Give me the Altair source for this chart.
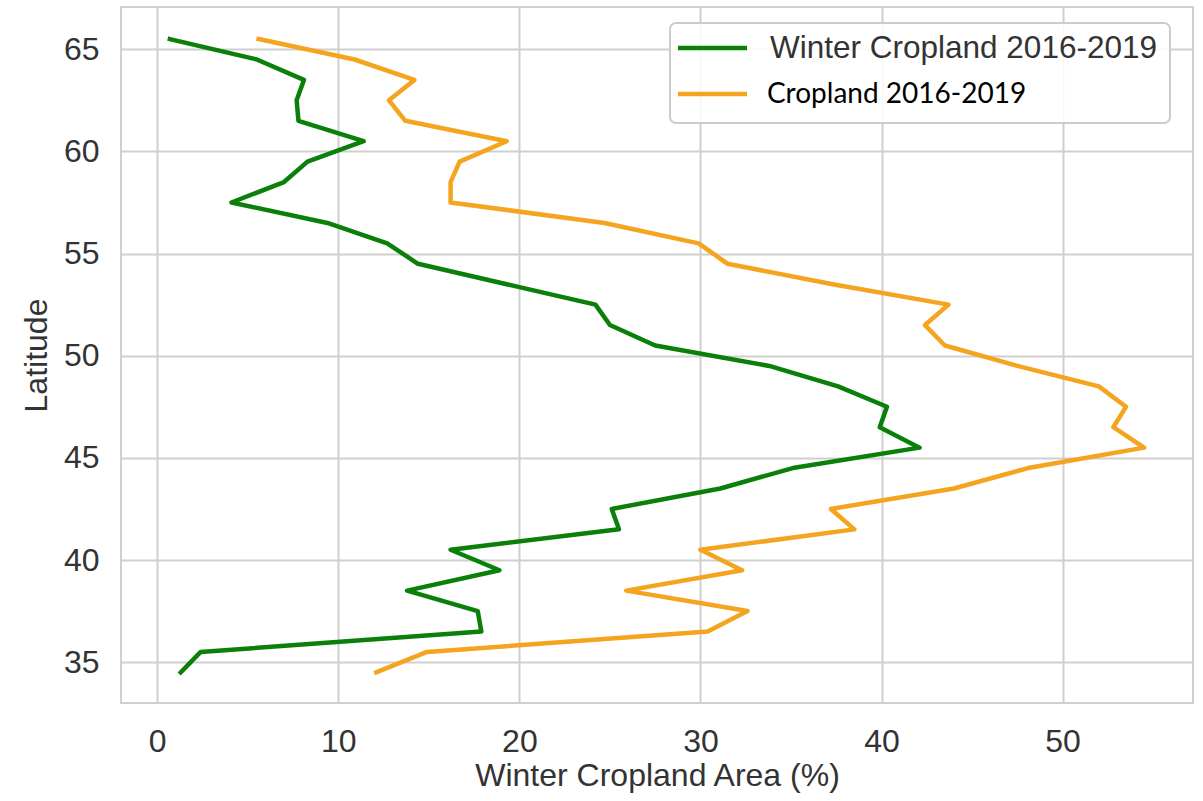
import altair as alt
import pandas as pd

# Latitude bands (band centres, degrees N), north to south
latitude = [65.5, 64.5, 63.5, 62.5, 61.5, 60.5, 59.5, 58.5, 57.5, 56.5, 55.5,
            54.5, 53.5, 52.5, 51.5, 50.5, 49.5, 48.5, 47.5, 46.5, 45.5, 44.5,
            43.5, 42.5, 41.5, 40.5, 39.5, 38.5, 37.5, 36.5, 35.5, 34.5]

# Share of land area (%) per latitude band
winter_cropland = [0.7, 5.5, 8.1, 7.7, 7.8, 11.4, 8.3, 7.0, 4.1, 9.4, 12.7,
                   14.4, 19.3, 24.2, 25.0, 27.5, 33.8, 37.6, 40.3, 39.9, 42.1, 35.1,
                   31.1, 25.1, 25.5, 16.2, 18.9, 13.8, 17.7, 17.9, 2.4, 1.3]
cropland = [5.6, 10.9, 14.2, 12.8, 13.7, 19.3, 16.7, 16.2, 16.2, 24.7, 29.9,
            31.5, 37.3, 43.7, 42.4, 43.5, 47.5, 52.0, 53.5, 52.8, 54.5, 48.1,
            44.0, 37.2, 38.5, 30.0, 32.3, 25.9, 32.6, 30.4, 14.9, 12.1]

series_names = ["Winter Cropland 2016-2019", "Cropland 2016-2019"]
series_colors = ["#0a800a", "#f4a41e"]

rows = []
for name, values in zip(series_names, [winter_cropland, cropland]):
    for lat, v in zip(latitude, values):
        rows.append({"series": name, "lat": lat, "value": v})
df = pd.DataFrame(rows)

W, H = 1072, 696
grid = "#cfcfcf"
ink = "#333333"

lines = alt.Chart(df).mark_line(strokeWidth=4.5, strokeJoin="round", strokeCap="square").encode(
    x=alt.X("value:Q",
            scale=alt.Scale(domain=[-2.0, 57.2], nice=False, zero=False),
            axis=alt.Axis(values=[0, 10, 20, 30, 40, 50], title="Winter Cropland Area (%)",
                          titleX=W / 2, titleY=72, titleBaseline="middle", titleAlign="center")),
    y=alt.Y("lat:Q",
            scale=alt.Scale(domain=[33.0, 67.07], nice=False, zero=False),
            axis=alt.Axis(values=[35, 40, 45, 50, 55, 60, 65], title="Latitude",
                          titleX=-85, titleY=H / 2, titleAngle=-90,
                          titleBaseline="middle", titleAlign="center")),
    color=alt.Color("series:N", scale=alt.Scale(domain=series_names, range=series_colors), legend=None),
    order=alt.Order("lat:Q", sort="descending"),
    detail="series:N",
)

one = pd.DataFrame({"k": [0]})

# Legend panel
box = alt.Chart(one).mark_rect(cornerRadius=6, stroke="#cccccc", strokeWidth=2,
                               fill="white", fillOpacity=0.85).encode(
    x=alt.value(549), x2=alt.value(1049), y=alt.value(16), y2=alt.value(116))

swatch_green = alt.Chart(one).mark_rule(strokeWidth=4.5, color=series_colors[0]).encode(
    x=alt.value(557), x2=alt.value(626), y=alt.value(41))
swatch_orange = alt.Chart(one).mark_rule(strokeWidth=4.5, color=series_colors[1]).encode(
    x=alt.value(557), x2=alt.value(626), y=alt.value(87))

label_winter = alt.Chart(one).mark_text(align="left", baseline="middle", fontSize=31.5,
                                        font="Liberation Sans", color=ink).encode(
    x=alt.value(649), y=alt.value(42), text=alt.value(series_names[0]))
label_crop = alt.Chart(one).mark_text(align="left", baseline="middle", fontSize=28,
                                      font="Lato", color="black").encode(
    x=alt.value(646), y=alt.value(88), text=alt.value(series_names[1]))

chart = alt.layer(lines, box, swatch_green, swatch_orange, label_winter, label_crop).properties(
    width=W, height=H,
    autosize=alt.AutoSizeParams(type="none"),
    padding={"left": 121, "top": 7, "right": 10, "bottom": 98},
    background="white",
).configure_view(
    stroke=grid, strokeWidth=2
).configure_axis(
    domain=False, ticks=False, grid=True, gridColor=grid, gridWidth=2,
    labelFont="Liberation Sans", labelFontSize=32, labelColor=ink,
    titleFont="Liberation Sans", titleFontSize=32, titleColor=ink, titleFontWeight="normal",
).configure_axisX(labelPadding=23).configure_axisY(labelPadding=22)

chart.save("out.html", embed_options={"renderer": "svg", "actions": False})
